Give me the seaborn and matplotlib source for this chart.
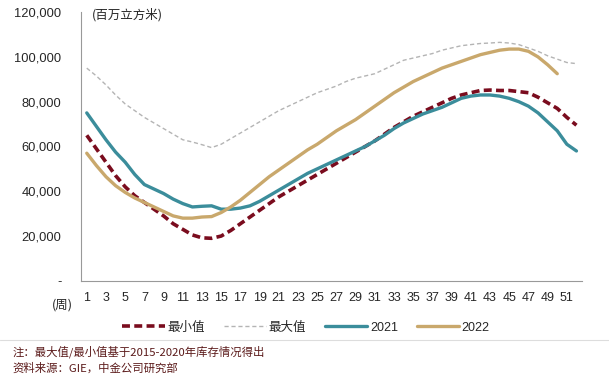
import matplotlib
matplotlib.use("Agg")
import matplotlib.pyplot as plt
import numpy as np
import pandas as pd
import seaborn as sns

# ── 数据（百万立方米，按周） ──────────────────
weeks = list(range(1, 53))
min_vals = [65000, 59000, 53000, 47000, 42000, 38000, 35000, 32000, 29000, 25500,
            23000, 20500, 19200, 19000, 20000, 22500, 25500, 28500, 31500, 34500,
            37500, 40000, 42500, 45000, 47500, 50000, 52500, 55000, 57500, 60000,
            62500, 65500, 68500, 71000, 73500, 75500, 77500, 79500, 81500, 83000,
            84000, 85000, 85200, 85000, 85000, 84500, 84000, 82000, 79500, 77000,
            73000, 69500]
max_vals = [95000, 91500, 87500, 83000, 79000, 76000, 73000, 70500, 68000, 65500,
            63000, 62000, 60800, 59500, 61000, 63500, 66000, 68500, 71000, 73500,
            76000, 78000, 80000, 82000, 84000, 85500, 87000, 89000, 90500, 91500,
            92500, 94500, 96500, 98500, 99500, 100500, 101500, 103000, 104000, 105000,
            105500, 106000, 106200, 106500, 106200, 105500, 104000, 102500, 100500, 99000,
            97500, 97000]
y2021 = [75000, 69000, 63000, 57500, 53000, 47500, 43000, 41000, 39000, 36500,
         34500, 33000, 33300, 33500, 32000, 32000, 32500, 33500, 35500, 38000,
         40500, 43000, 45500, 48000, 50000, 52000, 54000, 56000, 58000, 60000,
         62500, 65000, 68000, 70500, 72500, 74500, 76000, 77500, 79500, 81500,
         82500, 83000, 83000, 82500, 81500, 80000, 78000, 75000, 71000, 67000,
         61000, 58000]
y2022 = [57000, 51500, 46500, 42500, 39500, 37000, 35000, 33000, 31000, 29000,
         28000, 28000, 28500, 28700, 30500, 33000, 36000, 39500, 43000, 46500,
         49500, 52500, 55500, 58500, 61000, 64000, 67000, 69500, 72000, 75000,
         78000, 81000, 84000, 86500, 89000, 91000, 93000, 95000, 96500, 98000,
         99500, 101000, 102000, 103000, 103500, 103500, 102500, 100000, 96500, 92500]

series_names = ["最小值", "最大值", "2021", "2022"]
series_vals = [min_vals, max_vals, y2021, y2022]
colors = ["#7a0c1e", "#b4b4b4", "#3b8d9b", "#c9a86c"]

frames = []
for name, vals in zip(series_names, series_vals):
    frames.append(pd.DataFrame({"week": weeks[:len(vals)], "value": vals, "series": name}))
df = pd.concat(frames, ignore_index=True)

sns.set_style("white")
plt.rcParams["font.family"] = ["Liberation Sans", "Noto Sans CJK SC", "DejaVu Sans"]
cjk = ["Noto Sans CJK SC", "DejaVu Sans"]

fig = plt.figure(figsize=(6.09, 3.79), dpi=100)
ax = fig.add_axes([0.133, 0.259, 0.823, 0.709])

styles = {
    "最小值": dict(linestyle=(0, (2.2, 1.2)), linewidth=2.6),
    "最大值": dict(linestyle=(0, (3, 2)), linewidth=1.0),
    "2021": dict(linestyle="-", linewidth=2.4),
    "2022": dict(linestyle="-", linewidth=2.4),
}
for name, color in zip(series_names, colors):
    sub = df[df["series"] == name]
    sns.lineplot(data=sub, x="week", y="value", color=color, ax=ax,
                 label=name, **styles[name])

ax.set_xlim(0.4, 52.6)
ax.set_ylim(0, 120000)
ax.set_xticks(range(1, 52, 2))
ax.set_xticks(range(1, 53), minor=True)
ax.set_yticks(range(0, 120001, 20000))
ax.set_yticklabels(["-"] + [f"{v:,}" for v in range(20000, 120001, 20000)])
ax.tick_params(axis="x", which="both", direction="out", length=3, width=0.6,
               color="#999999", labelsize=9, pad=5)
ax.tick_params(axis="y", length=0, labelsize=9.3, pad=14)
ax.set_xlabel("")
ax.set_ylabel("")
for s in ["top", "right"]:
    ax.spines[s].set_visible(False)
for s in ["left", "bottom"]:
    ax.spines[s].set_color("#999999")
    ax.spines[s].set_linewidth(0.8)

ax.text(0.022, 0.99, "(百万立方米)", transform=ax.transAxes, fontsize=9,
        va="center", ha="left", family=cjk)
fig.text(0.102, 0.196, "(周)", fontsize=9, ha="center", va="center", family=cjk)

leg = ax.legend(loc="upper center", bbox_to_anchor=(0.449, -0.11), ncol=4,
                frameon=False, fontsize=9, handlelength=3.4, columnspacing=1.5,
                handletextpad=0.2)
for t in leg.get_texts():
    t.set_family(["Liberation Sans", "Noto Sans CJK SC", "DejaVu Sans"])

fig.add_artist(plt.Line2D([0, 1], [0.103, 0.103], color="#dddddd", linewidth=0.8,
                          transform=fig.transFigure))
note_color = "#5b1a1a"
fig.text(0.02, 0.072, "注：最大值/最小值基于2015-2020年库存情况得出", fontsize=8.2,
         color=note_color, va="center", family=cjk)
fig.text(0.02, 0.030, "资料来源：GIE，中金公司研究部", fontsize=8.2,
         color=note_color, va="center", family=cjk)

fig.savefig("out.png", dpi=100)
